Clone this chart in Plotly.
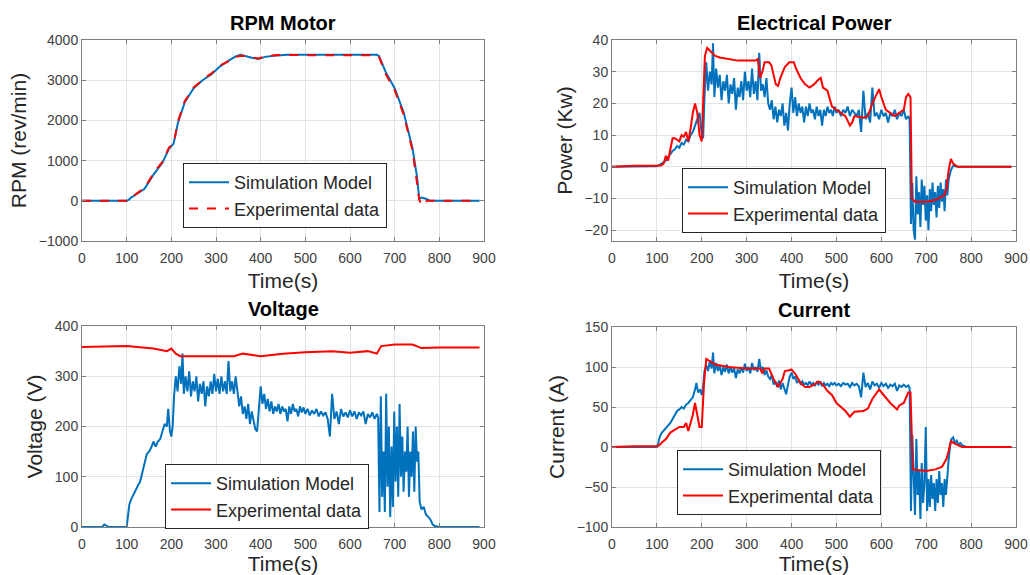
import plotly.graph_objects as go

# ---------------- RPM Motor ----------------
rpm_sim_t = [0, 100, 105, 110, 120, 140, 160, 180, 195, 205, 215, 230, 250, 270, 290, 310, 330,
             345, 355, 365, 380, 395, 410, 430, 460, 500, 600, 660, 665, 680, 700, 720, 740,
             750, 755, 760, 770, 780, 800, 890]
rpm_sim_v = [0, 0, 30, 80, 150, 300, 650, 950, 1300, 1420, 1950, 2450, 2800, 3000, 3150, 3350, 3500,
             3600, 3630, 3600, 3560, 3530, 3580, 3610, 3630, 3630, 3630, 3630, 3600, 3200, 2800, 2200, 1300,
             600, 50, 80, 50, 0, 0, 0]
rpm_exp_t = [0, 100, 105, 110, 120, 140, 160, 180, 195, 205, 215, 230, 250, 270, 290, 310, 330,
             335, 345, 355, 365, 380, 395, 410, 430, 460, 500, 600, 660, 665, 680, 700, 720, 740,
             750, 755, 760, 765, 768, 772, 780, 800, 890]
rpm_exp_v = [0, 0, 40, 90, 160, 320, 680, 970, 1330, 1400, 1980, 2480, 2820, 3010, 3170, 3370, 3480,
             3560, 3580, 3610, 3600, 3570, 3540, 3590, 3620, 3630, 3620, 3620, 3620, 3580, 3150, 2750, 2150, 1250,
             500, 30, -100, -110, -90, 0, 0, 0, 0]

# ---------------- Electrical Power (kW) ----------------
pw_sim_t = [0, 50, 100, 105, 110, 115, 120, 125, 130, 135, 140, 145, 150, 155, 160, 165, 170, 175, 180,
            185, 190, 195, 200, 203,
            206, 210, 214, 218, 222, 225, 228, 232, 236, 240, 244, 248, 252, 256, 260, 264, 268, 272, 276,
            280, 284, 288, 292, 296, 300, 304, 308, 312, 316, 320, 324, 328, 332, 336, 340, 344, 348,
            352, 356, 360, 364, 368, 372, 376, 380, 384, 388, 392, 396, 400, 404, 408, 412, 416, 420, 424,
            428, 432, 436, 440, 444, 448, 452, 456, 460, 464, 468, 472, 476, 480, 484, 488, 492, 496, 500,
            505, 510, 515, 520, 525, 530, 535, 540, 545, 550, 555, 560, 565, 570, 575, 580, 585, 590, 595,
            600, 605, 610, 615, 620, 625, 630, 635, 640, 645, 650, 655, 660, 663,
            666, 669, 672, 675, 678, 681, 684, 687, 690, 693, 696, 699, 702, 705, 708, 711, 714, 717, 720,
            723, 726, 729, 732, 735, 738, 741, 744, 747, 750, 755, 760, 770, 890]
pw_sim_v = [0, 0, 0.2, 0.5, 1, 1.5, 2, 3, 4, 5, 5.5, 6.5, 6, 7.5, 7, 8.5, 8, 10, 11,
            13, 15, 17, 10, 9,
            22, 33, 24, 30, 26, 39, 22, 31, 25, 29, 21, 27, 24, 29, 20, 26, 23, 28, 18,
            25, 22, 27, 21, 30, 24, 27, 22, 31, 23, 27, 21, 36, 24, 26, 22, 28, 20,
            18, 21, 15, 19, 14, 18, 16, 20, 13, 17, 11.5, 20, 25, 17, 22, 16, 20, 17, 19,
            14, 19, 16, 20, 17, 18, 15, 19, 16, 18, 13, 18, 16, 19, 17, 18, 16, 19, 17,
            18, 16, 18, 17, 19, 16, 18, 17, 16, 18, 11, 24, 15, 17, 14, 25, 16, 17, 15,
            18, 16, 17, 14, 17, 16, 18, 15, 17, 16, 18, 15, 16, 15,
            -18, -5, -20, -23, -3, -15, -8, -19, -4, -12, -6, -17, -9, -20, -7, -14, -5, -12, -8,
            -16, -6, -13, -5, -11, -7, -14, -4, -9, -4, -1, 0.3, 0, 0]
pw_exp_t = [0, 50, 100, 110, 115, 120, 125, 130, 135, 140, 150, 155, 160, 165, 170, 175, 180, 185, 190,
            195, 200, 203, 207, 212, 220, 230, 240, 260, 280, 300, 320, 325, 330, 335, 340, 345, 350,
            355, 360, 365, 370, 375, 385, 395, 405, 410, 420, 430, 440, 450, 460, 465, 470, 480, 490,
            500, 510, 520, 530, 535, 540, 560, 570, 580, 595, 600, 610, 620, 630, 640, 650, 655, 660,
            665, 668, 675, 700, 720, 740, 745, 750, 755, 760, 770, 780, 890]
pw_exp_v = [0, 0.3, 0.3, 0.5, 1, 3.5, 2, 5, 9, 9, 8, 10, 9.5, 11, 8, 12, 17, 20, 17,
            10, 8, 20, 35, 37.5, 36.5, 35, 34.5, 34, 33.5, 33.5, 33.5, 34, 28, 30, 33, 33, 33,
            32, 29, 26, 25.5, 28, 31.5, 33, 33, 31, 28, 26, 25, 26, 27.5, 28, 25, 24, 19,
            18, 17, 16, 13, 14, 16, 15.5, 16, 20, 24.5, 22, 18, 17, 16, 17, 18, 22, 23,
            22, -10, -11, -11, -10.5, -9, -7, -1, 2.5, 1, 0, 0, 0]

# ---------------- Voltage (V) ----------------
v_sim_t = [0, 45, 50, 55, 60, 100, 103, 106, 110, 115, 120, 125, 130, 135, 140, 145, 150, 155, 160, 165,
           170, 175, 180, 185, 190, 193, 197, 200, 203,
           206, 210, 214, 218, 222, 225, 228, 232, 236, 240, 244, 248, 252, 256, 260, 264, 268, 272, 276,
           280, 284, 288, 292, 296, 300, 304, 308, 312, 316, 320, 324, 328, 332, 336, 340, 344, 348,
           352, 356, 360, 364, 368, 372, 376, 380, 384, 388, 392, 396, 400, 404, 408, 412, 416, 420, 424,
           428, 432, 436, 440, 444, 448, 452, 456, 460, 464, 468, 472, 476, 480, 484, 488, 492, 496, 500,
           505, 510, 515, 520, 525, 530, 535, 540, 545, 550, 555, 560, 565, 570, 575, 580, 585, 590, 595,
           600, 605, 610, 615, 620, 625, 630, 635, 640, 645, 650, 655, 660, 663,
           666, 669, 672, 675, 678, 681, 684, 687, 690, 693, 696, 699, 702, 705, 708, 711, 714, 717, 720,
           723, 726, 729, 732, 735, 738, 741, 744, 747, 750, 753, 756, 760, 765, 770, 775, 780, 785, 790,
           800, 890]
v_sim_v = [0, 0, 5, 2, 0, 0, 20, 45, 55, 65, 75, 82, 90, 110, 130, 145, 150, 158, 170, 160,
           170, 175, 190, 205, 200, 235, 190, 180, 200,
           260, 300, 270, 320, 285, 345, 265, 300, 270, 310, 260, 290, 270, 300, 250, 285, 265, 290, 240,
           280, 260, 290, 265, 305, 270, 295, 265, 300, 270, 290, 265, 330, 270, 290, 265, 300, 270,
           240, 260, 225, 240, 215, 245, 205, 230, 215, 195, 190, 240, 280, 245, 265, 235, 255, 230, 250,
           225, 240, 230, 245, 225, 240, 230, 235, 210, 240, 225, 245, 230, 235, 220, 240, 228, 238, 225,
           235, 222, 232, 225, 235, 220, 230, 222, 228, 215, 180, 265, 215, 230, 205, 235, 220, 228, 218,
           232, 220, 230, 215, 228, 222, 230, 205, 225, 218, 228, 215, 225, 218,
           30, 260, 60, 150, 30, 265, 80, 200, 20, 160, 40, 230, 90, 200, 60, 245, 100, 180, 70,
           150, 110, 200, 60, 150, 100, 190, 70, 200, 130, 150, 50, 35, 40, 25, 20, 15, 5, 2,
           0, 0]
v_exp_t = [0, 100, 160, 190, 200, 210, 220, 300, 340, 360, 400, 450, 500, 560, 600, 640, 660, 670,
           700, 740, 760, 800, 890]
v_exp_v = [358, 360, 355, 350, 355, 345, 340, 340, 340, 345, 340, 345, 348, 350, 347, 350, 345, 360,
           363, 363, 356, 357, 357]

# ---------------- Current (A) ----------------
i_sim_t = [0, 50, 100, 103, 106, 110, 115, 120, 125, 130, 135, 140, 145, 150, 155, 160, 165, 170, 175,
           180, 185, 188, 192, 196, 200, 203,
           206, 210, 214, 218, 222, 225, 228, 232, 236, 240, 244, 248, 252, 256, 260, 264, 268, 272, 276,
           280, 284, 288, 292, 296, 300, 304, 308, 312, 316, 320, 324, 328, 332, 336, 340, 344, 348,
           352, 356, 360, 364, 368, 372, 376, 380, 384, 388, 392, 396, 400, 404, 408, 412, 416, 420, 424,
           428, 432, 436, 440, 444, 448, 452, 456, 460, 464, 468, 472, 476, 480, 484, 488, 492, 496, 500,
           505, 510, 515, 520, 525, 530, 535, 540, 545, 550, 555, 560, 565, 570, 575, 580, 585, 590, 595,
           600, 605, 610, 615, 620, 625, 630, 635, 640, 645, 650, 655, 660, 663,
           666, 669, 672, 675, 678, 681, 684, 687, 690, 693, 696, 699, 702, 705, 708, 711, 714, 717, 720,
           723, 726, 729, 732, 735, 738, 741, 744, 747, 750, 753, 756, 760, 764, 768, 772, 776, 780, 790,
           890]
i_sim_v = [0, 0, 0, 5, 12, 17, 20, 23, 27, 30, 35, 40, 45, 47, 50, 48, 53, 55, 58,
           62, 72, 80, 68, 72, 65, 75,
           95, 102, 95, 108, 98, 118, 92, 105, 95, 102, 90, 100, 94, 103, 92, 100, 93, 99, 86,
           97, 92, 100, 93, 104, 95, 100, 92, 105, 96, 100, 94, 110, 95, 100, 90, 96, 88,
           85, 90, 78, 82, 75, 83, 72, 80, 74, 66, 78, 88, 93, 85, 88, 80, 84, 79, 82,
           78, 80, 77, 82, 78, 80, 77, 81, 78, 82, 76, 80, 77, 79, 76, 80, 78, 80, 77,
           79, 76, 80, 78, 79, 75, 80, 77, 79, 76, 62, 93, 75, 80, 72, 82, 77, 79, 74,
           80, 76, 79, 74, 78, 76, 79, 70, 77, 75, 78, 75, 77, 74,
           -80, 15, -40, -85, 10, -60, -30, -90, -20, -70, -45, 25, -80, -40, -75, -35, -65, -45, -80,
           -40, -70, -30, -60, -45, -75, -40, -60, -30, -15, 0, 10, 12, 5, 8, 3, 5, 2, 0,
           0]
i_exp_t = [0, 50, 100, 105, 110, 120, 130, 140, 150, 160, 165, 170, 175, 180, 185, 190, 195, 200,
           205, 210, 215, 230, 260, 300, 330, 335, 340, 350, 360, 370, 380, 385, 395, 400, 410, 420,
           430, 440, 450, 460, 470, 480, 490, 500, 510, 520, 530, 540, 560, 570, 580, 595, 605, 620,
           635, 640, 650, 660, 665, 670, 700, 720, 735, 745, 750, 755, 760, 770, 780, 890]
i_exp_v = [0, 1, 1, 2, 5, 10, 18, 22, 25, 25, 30, 20, 30, 40, 55, 40, 25, 25,
           80, 110, 108, 103, 100, 98, 98, 92, 98, 98, 85, 75, 85, 95, 96, 97, 90, 80,
           75, 75, 78, 82, 78, 70, 65, 55, 50, 45, 38, 44, 45, 48, 60, 72, 65, 55,
           47, 52, 55, 68, 68, -28, -30, -28, -25, -15, -5, 8, 5, 2, 0, 0]

# ---------------- labels ----------------
titles = ["RPM Motor", "Electrical Power", "Voltage", "Current"]
y_titles = ["RPM (rev/min)", "Power (Kw)", "Voltage (V)", "Current (A)"]
x_title = "Time(s)"
names = ["Simulation Model", "Experimental data"]
x_ticks = [0, 100, 200, 300, 400, 500, 600, 700, 800, 900]

BLUE = "#0072BD"
RED = "#FF0000"
FONT = "Liberation Sans, Arial, sans-serif"
W, H = 1030, 575

# subplot pixel boxes: (left, right, top, bottom)
boxes = [(82, 484, 40, 241), (612, 1016, 40, 241), (82, 484, 326, 527), (612, 1016, 327, 527)]
y_ranges = [[-1000, 4000], [-23.4, 40], [0, 400], [-100, 150]]
y_dticks = [1000, 10, 100, 50]
legend_pos = [(183, 163), (682, 168), (165, 464), (677, 450)]
series = [
    (rpm_sim_t, rpm_sim_v, rpm_exp_t, rpm_exp_v, "dash"),
    (pw_sim_t, pw_sim_v, pw_exp_t, pw_exp_v, "solid"),
    (v_sim_t, v_sim_v, v_exp_t, v_exp_v, "solid"),
    (i_sim_t, i_sim_v, i_exp_t, i_exp_v, "solid"),
]

fig = go.Figure()
layout = dict(
    width=W, height=H, margin=dict(l=0, r=0, t=0, b=0),
    paper_bgcolor="white", plot_bgcolor="white",
    font=dict(family=FONT, color="#262626"),
    annotations=[],
)

for k in range(4):
    sfx = "" if k == 0 else str(k + 1)
    xa, ya = "x" + sfx, "y" + sfx
    lg = "legend" + sfx
    st, sv, et, ev, dash = series[k]
    fig.add_trace(go.Scatter(x=st, y=sv, mode="lines", name=names[0], xaxis=xa, yaxis=ya,
                             legend=lg, line=dict(color=BLUE, width=2)))
    fig.add_trace(go.Scatter(x=et, y=ev, mode="lines", name=names[1], xaxis=xa, yaxis=ya,
                             legend=lg, line=dict(color=RED, width=2, dash=dash)))
    l, r, t, b = boxes[k]
    axcommon = dict(showline=True, linecolor="#808080", linewidth=1, mirror="ticks",
                    ticks="inside", ticklen=4, tickcolor="#808080", automargin=False,
                    showgrid=True, gridcolor="#e3e3e3", gridwidth=1, zeroline=False,
                    tickfont=dict(size=14, color="#404040", family=FONT))
    layout["xaxis" + sfx] = dict(domain=[l / W, r / W], anchor=ya, range=[0, 900],
                                 tickvals=x_ticks, ticktext=[str(v) for v in x_ticks],
                                 ticklabelstandoff=4,
                                 title=dict(text=x_title, font=dict(size=21, color="#262626"), standoff=8),
                                 **axcommon)
    layout["yaxis" + sfx] = dict(domain=[1 - b / H, 1 - t / H], anchor=xa, range=y_ranges[k],
                                 dtick=y_dticks[k],
                                 title=dict(text=y_titles[k], font=dict(size=21, color="#262626"), standoff=6),
                                 **axcommon)
    layout[lg] = dict(x=legend_pos[k][0] / W, y=1 - legend_pos[k][1] / H, xanchor="left", yanchor="top",
                      bgcolor="white", bordercolor="#262626", borderwidth=1,
                      font=dict(size=18, color="#262626", family=FONT),
                      tracegroupgap=0, itemwidth=40)
    layout["annotations"].append(dict(text="<b>" + titles[k] + "</b>", xref="paper", yref="paper",
                                      x=(l + r) / 2 / W, y=1 - (t - 4) / H, xanchor="center",
                                      yanchor="bottom", showarrow=False,
                                      font=dict(size=20, color="#000000", family=FONT)))

fig.update_layout(**layout)
fig.write_html("out.html")
